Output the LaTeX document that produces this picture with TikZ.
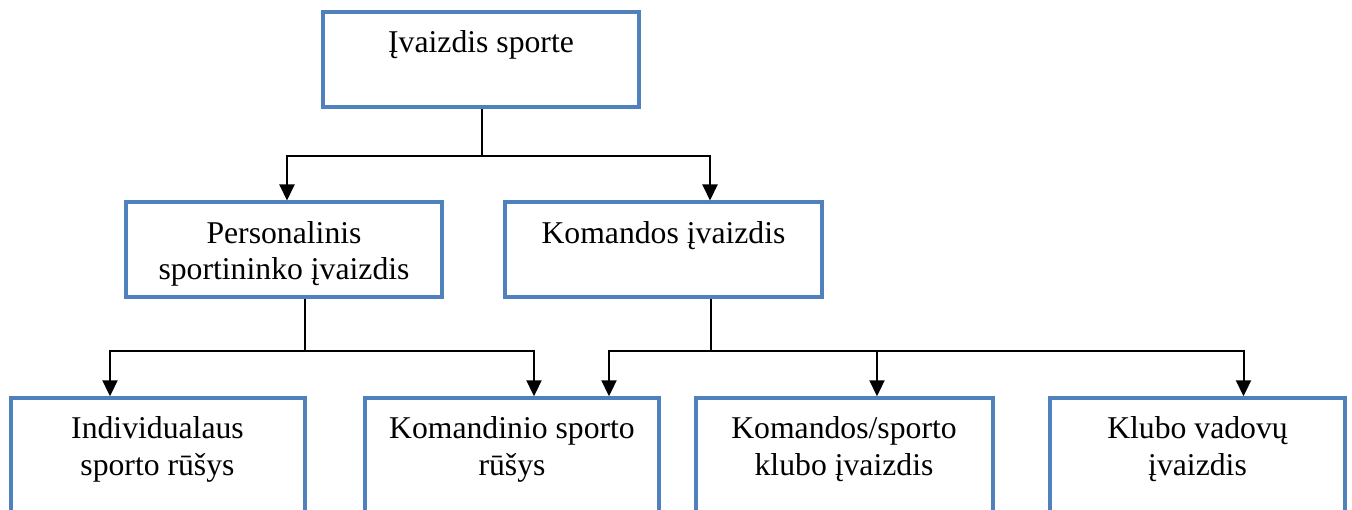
\documentclass[tikz,border=0pt]{standalone}
\usepackage{fontspec}
\setmainfont{Liberation Serif}
\usetikzlibrary{arrows.meta}
\definecolor{boxblue}{RGB}{79,129,189}

% a box whose first text line sits #1 below the top edge, for a box #2 high
\tikzset{
  box/.style 2 args={draw=boxblue, line width=4pt, fill=white,
    inner xsep=0pt, inner ysep=0pt,
    text height=#1, text depth=#2-#1,
    font=\fontsize{31.7pt}{36.5pt}\selectfont},
  link/.style={draw=black, line width=2pt},
  arrow/.style={link, -{Triangle[width=15pt,length=16pt]}},
}
\newcommand{\boxtext}[1]{\begin{tabular}[t]{@{}c@{}}#1\end{tabular}}

\begin{document}
\begin{tikzpicture}[x=1pt, y=-1pt]
\useasboundingbox (0,0) rectangle (1352,510);

% top level
\node[box={40.5pt}{95pt}, minimum width=316pt] (top) at (481,59.5)
  {\boxtext{Įvaizdis sporte}};

% second level
\node[box={41pt}{94.5pt}, minimum width=316pt] (pers) at (284,249.75)
  {\boxtext{Personalinis\\ sportininko įvaizdis}};
\node[box={41pt}{94.5pt}, minimum width=317pt] (kmid) at (663.5,249.75)
  {\boxtext{Komandos įvaizdis}};

% third level (runs past the lower edge)
\node[box={40.5pt}{150pt}, minimum width=294pt] (indiv) at (157.5,473.3)
  {\boxtext{Individualaus\\ sporto rūšys}};
\node[box={40.5pt}{150pt}, minimum width=294pt] (kteam) at (512,473.3)
  {\boxtext{Komandinio sporto\\ rūšys}};
\node[box={40.5pt}{150pt}, minimum width=297pt] (kclub) at (844,473.3)
  {\boxtext{Komandos/sporto\\ klubo įvaizdis}};
\node[box={40.5pt}{150pt}, minimum width=295pt] (klead) at (1197.5,473.3)
  {\boxtext{Klubo vadovų\\ įvaizdis}};

% junctions of the bus lines
\coordinate (j0) at (481.7,155.7);
\coordinate (j1) at (305,350.7);
\coordinate (j2) at (710.5,350.7);

% top -> second level
\draw[link] (top.south -| j0) -- (j0);
\draw[arrow] (j0) -| ([xshift=3pt]pers.north);
\draw[arrow] (j0) -| ([xshift=46.5pt]kmid.north);

% personal image -> sport types
\draw[link] (pers.south -| j1) -- (j1);
\draw[arrow] (j1) -| ([xshift=-47.5pt]indiv.north);
\draw[arrow] (j1) -| ([xshift=22pt]kteam.north);

% team image -> its parts
\draw[link] (kmid.south -| j2) -- (j2);
\draw[arrow] (j2) -| ([xshift=97pt]kteam.north);
\draw[arrow] (j2) -| ([xshift=33pt]kclub.north);
\draw[arrow] (j2) -| ([xshift=46pt]klead.north);
\end{tikzpicture}
\end{document}
